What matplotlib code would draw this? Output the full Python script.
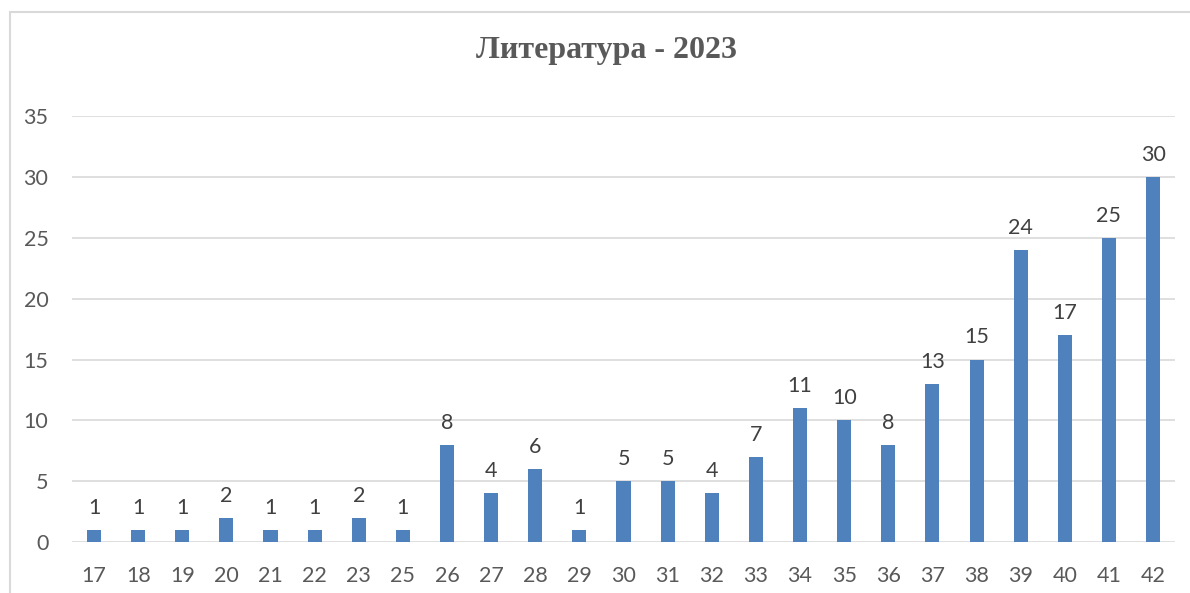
import matplotlib.pyplot as plt
from matplotlib.patches import Rectangle

# данные
ages = ['17', '18', '19', '20', '21', '22', '23', '25', '26', '27', '28', '29', '30',
        '31', '32', '33', '34', '35', '36', '37', '38', '39', '40', '41', '42']
counts = [1, 1, 1, 2, 1, 1, 2, 1, 8, 4, 6, 1, 5, 5, 4, 7, 11, 10, 8, 13, 15, 24, 17, 25, 30]

fig = plt.figure(figsize=(11.9, 5.93), dpi=100)
ax = fig.add_axes([0.0605, 0.086, 0.927, 0.718])

# рамка диаграммы
fig.patches.append(Rectangle((10 / 1190, -0.05), 1.1, 1 - 12 / 593 + 0.05,
                             transform=fig.transFigure, fill=False,
                             edgecolor='#d9d9d9', linewidth=1.5))

x = range(len(ages))
bars = ax.bar(x, counts, width=0.32, color='#4f81bd', zorder=3)
for xi, v in zip(x, counts):
    ax.text(xi, v + 1.0, str(v), ha='center', va='bottom', fontsize=15.5,
            color='#404040', family='Lato')

ax.set_xlim(-0.5, len(ages) - 0.5)
ax.set_ylim(0, 35)
ax.set_yticks(range(0, 36, 5))
ax.set_xticks(list(x))
ax.set_xticklabels(ages)
ax.grid(axis='y', color='#d9d9d9', linewidth=1.2, zorder=0)
for s in ax.spines.values():
    s.set_visible(False)
ax.tick_params(length=0, labelsize=15.5, labelcolor='#595959')
for lab in ax.get_xticklabels() + ax.get_yticklabels():
    lab.set_family('Lato')
ax.tick_params(axis='x', pad=17)
ax.tick_params(axis='y', pad=17)

fig.text(0.51, 0.915, 'Литература - 2023', ha='center', va='center',
         fontsize=23, fontweight='bold', color='#595959', family='Liberation Serif')

plt.savefig('out.png', dpi=100)
